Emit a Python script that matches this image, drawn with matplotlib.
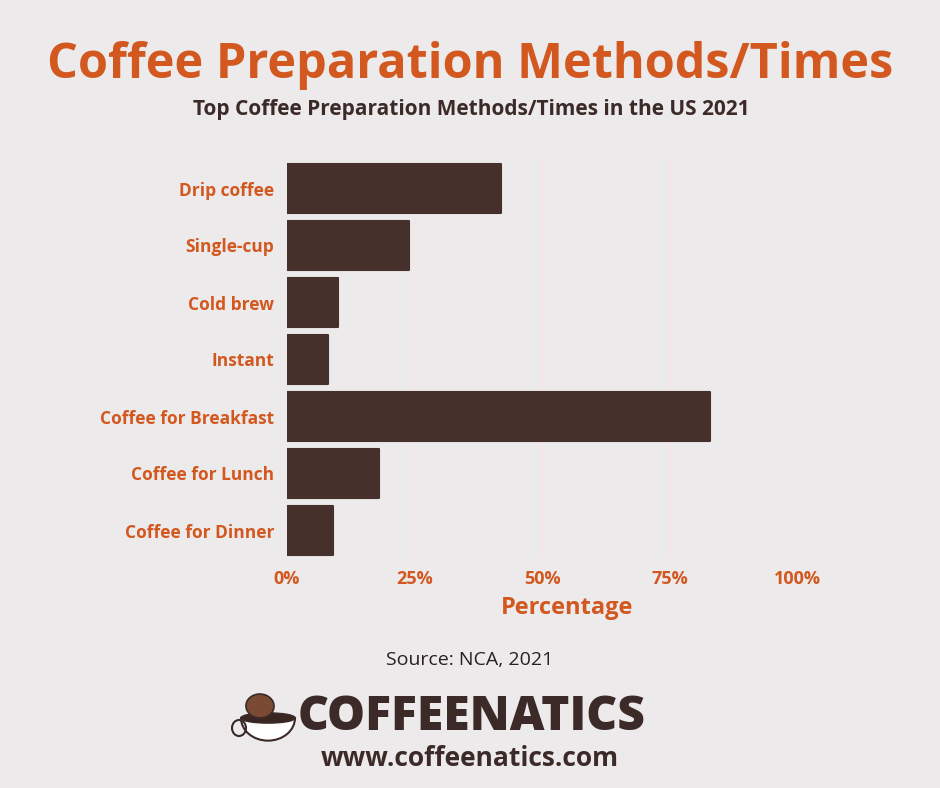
import matplotlib
matplotlib.use("Agg")
import matplotlib.pyplot as plt
from matplotlib.patches import Ellipse, Wedge

categories = ["Drip coffee", "Single-cup", "Cold brew", "Instant",
              "Coffee for Breakfast", "Coffee for Lunch", "Coffee for Dinner"]
values = [42, 24, 10, 8, 83, 18, 9]
xticks = [0, 25, 50, 75, 100]
xtick_labels = ["0%", "25%", "50%", "75%", "100%"]

BG = "#ECEAEA"
BAR = "#45302C"
ORANGE = "#D2581F"
DARK = "#3B2A28"

W, H = 940, 788
fig = plt.figure(figsize=(W / 100, H / 100), dpi=100, facecolor=BG)

ax = fig.add_axes([287 / W, 1 - 559 / H, 510 / W, 399 / H])
ax.set_facecolor(BG)
ypos = list(range(len(categories)))
ax.barh(ypos, values, height=0.87, color=BAR, edgecolor=BAR, linewidth=1.5,
        joinstyle="round", zorder=3)
ax.set_ylim(len(categories) - 0.5, -0.5)
ax.set_xlim(0, 100)
ax.set_yticks(ypos)
ax.set_yticklabels(categories, fontfamily="Open Sans", fontweight="bold",
                   fontsize=12.5, color=ORANGE)
ax.set_xticks(xticks)
ax.set_xticklabels(xtick_labels, fontfamily="Open Sans", fontweight="bold",
                   fontsize=13, color=ORANGE)
ax.tick_params(axis="both", length=0)
ax.tick_params(axis="y", pad=9)
ax.tick_params(axis="x", pad=8)
for s in ax.spines.values():
    s.set_visible(False)
ax.grid(axis="x", color="#F4E6E6", linewidth=2, zorder=0)
ax.set_axisbelow(True)

fig.text(567 / W, 1 - 608 / H, "Percentage", ha="center", va="center",
         fontfamily="Open Sans", fontweight="bold", fontsize=17, color=ORANGE)

fig.text(470 / W, 1 - 66 / H, "Coffee Preparation Methods/Times", ha="center",
         va="center", fontfamily="Open Sans", fontweight="bold", fontsize=35,
         color=ORANGE)
fig.text(471 / W, 1 - 110 / H, "Top Coffee Preparation Methods/Times in the US 2021",
         ha="center", va="center", fontfamily="Open Sans", fontweight="bold",
         fontsize=15, color=DARK)
fig.text(470 / W, 1 - 660 / H, "Source: NCA, 2021", ha="center", va="center",
         fontfamily="Open Sans", fontsize=14, color="#2A2020")
fig.text(472 / W, 1 - 718 / H, "COFFEENATICS", ha="center", va="center",
         fontfamily="Open Sans", fontweight="heavy", fontsize=34.5, color=DARK)
fig.text(470 / W, 1 - 758 / H, "www.coffeenatics.com", ha="center", va="center",
         fontfamily="Open Sans", fontweight="bold", fontsize=19, color=DARK)

# simple logo: cup with bean
lx, ly = 268, 720
cup = Wedge((lx / W, 1 - (ly - 2) / H), 27 / W, 180, 360, transform=fig.transFigure,
            facecolor="white", edgecolor=DARK, linewidth=1.5)
fig.patches.append(cup)
coffee = Ellipse((lx / W, 1 - (ly - 2) / H), 54 / W, 10 / H, transform=fig.transFigure,
                 facecolor="#3A2620", edgecolor=DARK, linewidth=1.2)
fig.patches.append(coffee)
handle = Ellipse(((lx - 29) / W, 1 - (ly + 8) / H), 14 / W, 16 / H,
                 transform=fig.transFigure, facecolor="none", edgecolor=DARK,
                 linewidth=1.5)
fig.patches.append(handle)
bean = Ellipse(((lx - 8) / W, 1 - (ly - 14) / H), 28 / W, 24 / H, angle=20,
               transform=fig.transFigure, facecolor="#7A4A35", edgecolor=DARK,
               linewidth=1.2)
fig.patches.append(bean)

fig.savefig("out.png", dpi=100, facecolor=BG)
